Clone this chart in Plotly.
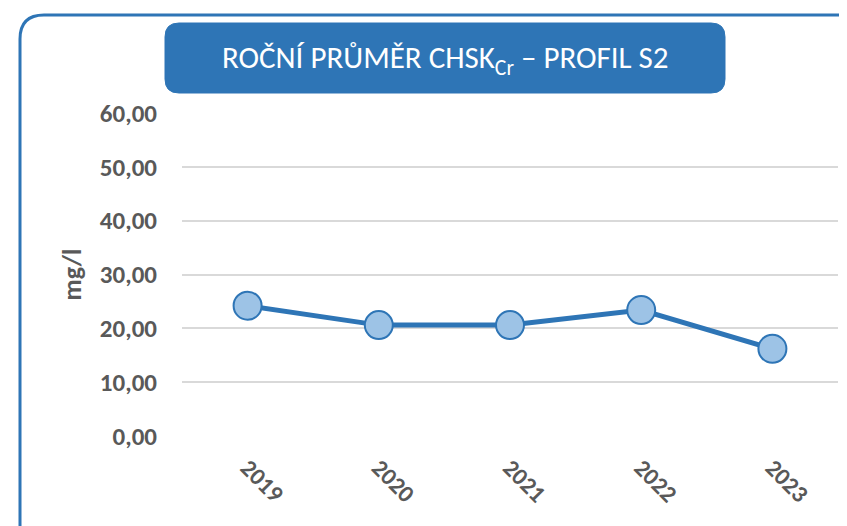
import plotly.graph_objects as go

years = ["2019", "2020", "2021", "2022", "2023"]
values = [24.2, 20.6, 20.6, 23.4, 16.2]

# browser body margin offset
OFF = 8
W, H = 847 - OFF, 526 - OFF
L, R, T, B = 182, 838, 113, 436  # target pixel positions of plot area

def px(x):
    return (x - L) / (R - L)

def py(y):
    return (B - y) / (B - T)

def rounded_path(x0, y0, x1, y1, r):
    pts = [
        f"M {px(x0 + r)} {py(y0)}",
        f"L {px(x1 - r)} {py(y0)}",
        f"Q {px(x1)} {py(y0)} {px(x1)} {py(y0 + r)}",
        f"L {px(x1)} {py(y1 - r)}",
        f"Q {px(x1)} {py(y1)} {px(x1 - r)} {py(y1)}",
        f"L {px(x0 + r)} {py(y1)}",
        f"Q {px(x0)} {py(y1)} {px(x0)} {py(y1 - r)}",
        f"L {px(x0)} {py(y0 + r)}",
        f"Q {px(x0)} {py(y0)} {px(x0 + r)} {py(y0)}",
        "Z",
    ]
    return " ".join(pts)

FONT = "Carlito, Calibri, Lato, sans-serif"
blue = "#2E75B6"
fig = go.Figure()
fig.add_trace(go.Scatter(
    x=years, y=values, mode="lines+markers",
    line=dict(color=blue, width=5),
    marker=dict(size=28, color="#9DC3E6", line=dict(color=blue, width=2)),
    cliponaxis=False, showlegend=False,
))

fig.update_layout(
    width=W, height=H,
    margin=dict(l=L - OFF, r=847 - R, t=T - OFF, b=526 - B, autoexpand=False),
    paper_bgcolor="white", plot_bgcolor="white",
    separators=", ",
    font=dict(family=FONT, color="#595959"),
    xaxis=dict(
        type="category", showgrid=False, zeroline=False, showline=False,
        tickangle=45, tickfont=dict(size=24, color="#595959", weight="bold"),
        ticks="", range=[-0.5, 4.5], ticklabelstandoff=12,
    ),
    yaxis=dict(
        range=[0, 60], dtick=10, tickformat=".2f",
        showgrid=True, gridcolor="#D9D9D9", gridwidth=1.5,
        zeroline=False, showline=False, ticks="",
        tickfont=dict(size=25, color="#595959", weight="bold"),
        ticklabelstandoff=24,
        title=dict(text="mg/l", font=dict(size=26, color="#595959", weight="bold"), standoff=10),
    ),
    shapes=[
        dict(type="path", xref="paper", yref="paper",
             path=rounded_path(20, 15, 900, 600, 24),
             line=dict(color=blue, width=3), fillcolor="rgba(0,0,0,0)", layer="below"),
        dict(type="path", xref="paper", yref="paper",
             path=rounded_path(165, 23, 725, 93, 14),
             line=dict(color=blue, width=1), fillcolor=blue, layer="above"),
    ],
    annotations=[
        dict(text="ROČNÍ PRŮMĚR CHSK<sub>Cr</sub> – PROFIL S2",
             xref="paper", yref="paper", x=px(445), y=py(59),
             xanchor="center", yanchor="middle", showarrow=False,
             font=dict(size=31, color="white", family=FONT, weight=300)),
    ],
)

fig.write_html("out.html")
